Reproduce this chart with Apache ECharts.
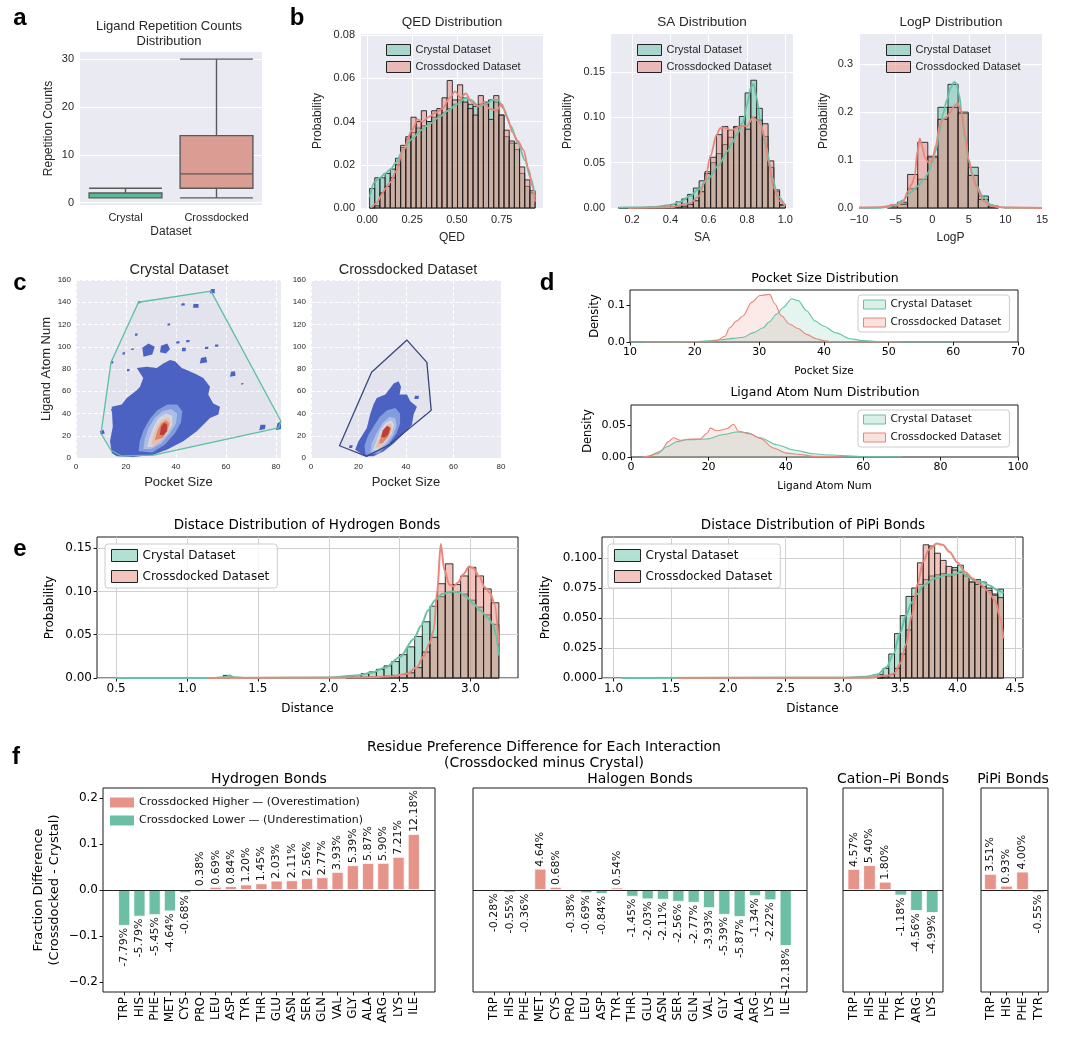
<!DOCTYPE html>
<html><head><meta charset="utf-8">
<script src="https://cdn.jsdelivr.net/npm/echarts@6/dist/echarts.min.js"></script>
<style>html,body{margin:0;padding:0;background:#fff;}#chart{width:1080px;height:1040px;}</style>
</head><body><div id="chart"></div>
<script>
// ======================= DATA =======================
// (a) ligand repetition counts boxplot: [min, Q1, median, Q3, max]
const boxCategories = ['Crystal', 'Crossdocked'];
const boxStats = [[1, 1, 1, 2, 3], [1, 3, 6, 14, 30]];
const repTicks = [0, 10, 20, 30];

const datasetNames = ['Crystal Dataset', 'Crossdocked Dataset'];

// (b) QED histogram (probability per bin) + KDE
const qedBinStart = 0.013, qedBinWidth = 0.02884;
const qedCrystal = [0.009,0.014,0.014,0.016,0.018,0.023,0.028,0.032,0.035,0.037,0.038,0.040,0.042,0.043,0.044,0.046,0.048,0.050,0.051,0.048,0.047,0.048,0.049,0.050,0.049,0.043,0.033,0.030,0.027,0.016,0.010,0.007];
const qedCross = [0.000,0.001,0.007,0.010,0.014,0.020,0.029,0.033,0.042,0.040,0.045,0.040,0.045,0.046,0.051,0.059,0.050,0.057,0.049,0.046,0.043,0.052,0.048,0.041,0.052,0.043,0.036,0.031,0.030,0.019,0.013,0.008];
const qedKdeCrystal = [[0.013,0.005],[0.04,0.012],[0.07,0.014],[0.1,0.016],[0.13,0.018],[0.16,0.021],[0.2,0.027],[0.25,0.032],[0.3,0.036],[0.35,0.039],[0.4,0.042],[0.45,0.045],[0.5,0.048],[0.55,0.051],[0.58,0.050],[0.62,0.047],[0.66,0.048],[0.7,0.050],[0.73,0.050],[0.76,0.046],[0.8,0.038],[0.84,0.030],[0.88,0.022],[0.91,0.014],[0.936,0.005]];
const qedKdeCross = [[0.02,0.000],[0.05,0.002],[0.08,0.006],[0.1,0.009],[0.13,0.012],[0.16,0.017],[0.2,0.027],[0.25,0.036],[0.28,0.041],[0.31,0.040],[0.34,0.042],[0.38,0.044],[0.42,0.046],[0.46,0.051],[0.49,0.054],[0.52,0.051],[0.55,0.053],[0.58,0.049],[0.62,0.047],[0.65,0.049],[0.68,0.046],[0.72,0.045],[0.75,0.048],[0.78,0.042],[0.81,0.035],[0.84,0.031],[0.87,0.027],[0.9,0.018],[0.92,0.010],[0.936,0.003]];
const qedXTicks = [0, 0.25, 0.5, 0.75];
const qedYTicks = [0, 0.02, 0.04, 0.06, 0.08];

// (b) SA
const saBinStart = 0.13, saBinWidth = 0.03;
const saCrystal = [0.0003,0.0003,0.0004,0.0005,0.0007,0.001,0.0013,0.0017,0.003,0.004,0.007,0.010,0.015,0.022,0.030,0.040,0.050,0.060,0.070,0.078,0.090,0.101,0.127,0.141,0.110,0.079,0.045,0.018,0.004];
const saCross = [0,0,0,0,0.0001,0.0002,0.0003,0.0005,0.0007,0.001,0.001,0.002,0.004,0.008,0.018,0.038,0.056,0.081,0.090,0.086,0.089,0.091,0.087,0.100,0.097,0.093,0.052,0.020,0.003];
const saKdeCrystal = [[0.13,0.0005],[0.2,0.0006],[0.3,0.001],[0.4,0.003],[0.45,0.007],[0.5,0.013],[0.55,0.021],[0.6,0.033],[0.65,0.047],[0.7,0.063],[0.72,0.071],[0.75,0.082],[0.78,0.095],[0.8,0.114],[0.82,0.133],[0.835,0.137],[0.85,0.122],[0.87,0.095],[0.9,0.068],[0.93,0.035],[0.96,0.013],[1.0,0.002]];
const saKdeCross = [[0.18,0.0],[0.3,0.0005],[0.4,0.001],[0.5,0.005],[0.55,0.013],[0.58,0.030],[0.61,0.058],[0.64,0.080],[0.66,0.088],[0.68,0.089],[0.7,0.087],[0.72,0.086],[0.75,0.089],[0.78,0.091],[0.8,0.090],[0.83,0.100],[0.85,0.097],[0.87,0.093],[0.89,0.080],[0.91,0.052],[0.94,0.022],[0.97,0.008],[1.0,0.002]];
const saXTicks = [0.2, 0.4, 0.6, 0.8, 1.0];
const saYTicks = [0, 0.05, 0.10, 0.15];

// (b) LogP
const logpBinStart = -6.12, logpBinWidth = 1.38;
const logpCrystal = [0.003,0.012,0.040,0.060,0.105,0.210,0.258,0.197,0.085,0.025,0.004];
const logpCross = [0.004,0.008,0.070,0.137,0.108,0.185,0.210,0.200,0.068,0.018,0.002];
const logpKdeCrystal = [[-10,0],[-7,0.0005],[-6,0.002],[-5,0.007],[-4,0.016],[-3,0.032],[-2,0.045],[-1,0.062],[-0.5,0.075],[0,0.095],[0.5,0.12],[1,0.16],[1.5,0.197],[2,0.225],[2.5,0.25],[3,0.263],[3.3,0.26],[3.7,0.235],[4,0.2],[4.5,0.145],[5,0.1],[5.5,0.07],[6,0.048],[7,0.022],[8,0.007],[9,0.002],[10,0.0005],[15,0]];
const logpKdeCross = [[-10,0.001],[-7,0.002],[-6,0.004],[-5.5,0.007],[-5,0.004],[-4,0.012],[-3.3,0.035],[-2.8,0.050],[-2.4,0.065],[-2,0.12],[-1.7,0.145],[-1.4,0.13],[-1,0.105],[-0.5,0.095],[0,0.1],[0.5,0.13],[1,0.172],[1.5,0.185],[2,0.19],[2.5,0.2],[3,0.213],[3.5,0.218],[4,0.2],[4.5,0.15],[5,0.1],[5.5,0.068],[6,0.045],[7,0.015],[8,0.004],[10,0.001],[15,0]];
const logpXTicks = [-10, -5, 0, 5, 10, 15];
const logpYTicks = [0, 0.1, 0.2, 0.3];

// (c) joint density contours [pocket size, ligand atom num], outer level first
const cXTicksCry = [0, 20, 40, 60, 80];
const cYTicks = [0, 20, 40, 60, 80, 100, 120, 140, 160];
const crystalLevels = [
  [[14.3,4.5],[13.6,15],[14.7,28],[14.3,46],[18.3,48],[20.3,54],[24.3,61],[25.6,64],[26.9,72],[24.3,81],[28.3,82],[32.3,81],[34.9,85],[37.6,88],[39.6,87],[42.3,81],[44.3,79],[48.3,75],[50.9,72],[53.6,64],[52.9,57],[54.9,49],[57.6,46],[56.9,39],[53.6,36],[48.3,24],[42.9,15],[36.3,7.5],[30.9,3],[22.9,1],[16.3,1.5]],
  [[25,6],[25.5,15],[27,25],[29.5,35],[32.5,43],[36.5,48],[40.5,48],[42.5,42],[42,32],[39.5,22],[35.5,12],[30.5,5]],
  [[27,8],[27.5,17],[29,27],[31.5,36],[34.5,42],[38,44],[40.5,40],[40,31],[37.5,22],[34,13],[30,8]],
  [[28.5,10],[29.5,19],[31,28],[33,36],[36,40],[38.5,38],[38.5,30],[36.5,22],[33,14],[30.5,10]],
  [[30,12],[31,21],[32.5,29],[34.5,35],[37,36.5],[38,32],[37,25],[34.5,17],[32,12]],
  [[31.5,16],[32.5,24],[34,31],[36,34],[37.3,31],[36.5,24],[34.5,18]],
  [[33.5,21],[34,28],[35.3,32],[36.5,30],[36.3,24],[35,20.5]]
];
const crystalIslands = [
  [[27,91],[26.5,99],[29,103],[31.5,100],[30.5,93]],
  [[33.6,95],[34,101],[36.5,103],[37.6,98],[36,94]],
  [[49.5,85],[50,90],[52,91],[52.5,86]],
  [[61.6,73],[62,77.5],[63.6,78],[63.8,74]],
  [[80,25],[80.5,31],[82,33],[82,26]],
  [[73.3,25],[73.8,30],[75.8,30],[75.6,26]],
  [[10,21],[9.5,24],[11,25.5],[11.5,22]],
  [[14.5,40],[14,44],[16,45],[16.5,41]],
  [[53.5,148],[54,152],[55.5,152],[55.5,148]],
  [[46.8,135],[47,138.5],[49,138.5],[49,135]],
  [[42,137],[42.3,139],[43.5,139],[43.5,137]],
  [[36.5,119],[36.7,121],[37.7,121],[37.5,119]],
  [[23.5,110],[23.7,112],[24.7,112],[24.5,110]],
  [[18.5,93],[18.7,95],[19.7,95],[19.5,93]],
  [[20.3,78],[20.5,80],[21.5,80],[21.3,78]],
  [[55.5,100],[55.7,102],[57,102],[56.8,100]],
  [[51.5,98],[51.7,100],[53,100],[52.8,98]],
  [[40,103],[40.2,105],[41.5,105],[41.3,103]],
  [[42.3,96],[42.5,99],[44,99],[43.8,96]],
  [[44,104],[44.2,106],[45.5,106],[45.3,104]],
  [[24.6,139],[24.8,141],[26,141],[25.8,139]],
  [[13.8,85],[14,87],[15,87],[14.8,85]],
  [[66,66],[66.2,67.5],[67,67.5],[66.8,66]],
  [[22,97],[22.2,98.5],[23.2,98.5],[23,97]]
];
const crystalHull = [[10,22],[14,86],[25,140],[54,150],[82,33],[81,27],[31,2.5],[18,2],[14,7]];
const crossLevels = [
  [[22.8,1.5],[18.6,7.5],[20,15],[23.5,27],[24.9,39],[26.3,48],[27.7,54],[31.3,57],[33.4,63],[34.8,67],[36.9,69],[37.9,64],[37.3,57],[40.4,57],[41.8,51],[44.6,46],[43.2,39],[42.5,30],[39,22],[34.8,13],[30.6,6],[26.3,1.5]],
  [[23,3],[22.5,11],[24,20],[26.5,29],[29,37],[32,43],[35.5,45],[37.5,40],[37.5,31],[36,22],[33,13],[28.5,4]],
  [[25,5],[25.5,13],[27.5,22],[30,31],[33,37],[35.5,36],[36,29],[34.5,20],[31.5,11],[27.5,5]],
  [[26,7],[27.5,15],[29,24],[31.5,32],[34,34],[35,30],[34,22],[31.5,14],[28,7]],
  [[27,9],[28.5,16],[30,24],[32,30],[34,31],[34,25],[32,17],[29,10]],
  [[28.5,13],[29.5,19],[31,26],[33,29],[33.8,26],[32.5,19],[30,13]],
  [[29.5,19],[30.3,25],[32,29],[33.3,27],[32.5,21],[31,18.5]]
];
const crossIslands = [
  [[43.5,53],[43.8,56],[45.5,56],[45.2,53]],
  [[29,52],[29.2,55],[30.8,55],[30.5,52]],
  [[16,9],[16.2,11.5],[17.6,11.5],[17.3,9]]
];
const crossHull = [[12,11],[25.5,77],[40.4,106],[48.8,86],[50.6,43],[48.5,39],[33,12],[23.4,1.5]];

// (d) KDE densities
const pocketTicks = [10, 20, 30, 40, 50, 60, 70];
const pocketKdeCrystal = [[10,0],[15,0],[18,0.0003],[20,0.001],[22,0.003],[24,0.006],[26,0.010],[27.5,0.013],[29,0.025],[30.6,0.039],[31.5,0.055],[32.7,0.077],[33.7,0.095],[35,0.119],[36,0.114],[37.3,0.086],[38.6,0.058],[39.9,0.044],[41.9,0.025],[44,0.009],[46,0.004],[48.6,0.001],[52,0.0002],[60,0]];
const pocketKdeCross = [[12,0],[18,0],[21.3,0.0005],[23.4,0.004],[24.7,0.016],[25.4,0.039],[26.5,0.058],[27.5,0.072],[28.8,0.109],[30.1,0.128],[31.6,0.131],[32.4,0.105],[33.4,0.072],[34.7,0.049],[36,0.037],[37.3,0.021],[38.8,0.009],[39.9,0.004],[41,0.001],[45,0.0002],[52,0]];
const ligandTicks = [0, 20, 40, 60, 80, 100];
const ligandKdeCrystal = [[3,0],[4.1,0.001],[6.7,0.005],[9.3,0.016],[11.9,0.024],[14.4,0.027],[19.6,0.028],[23.9,0.035],[27.3,0.039],[29.9,0.038],[33.4,0.030],[37.7,0.019],[42,0.011],[47.1,0.005],[51.4,0.003],[60,0.0005],[70,0]];
const ligandKdeCross = [[3,0],[4.6,0.001],[7.6,0.009],[9.7,0.024],[11,0.030],[12.7,0.026],[15.3,0.028],[17.9,0.028],[19.6,0.037],[20.5,0.045],[22.2,0.041],[24.8,0.044],[26.5,0.051],[27.8,0.040],[30.8,0.036],[33.4,0.029],[36.8,0.014],[40.2,0.006],[43.7,0.004],[47.1,0.001],[55,0]];

// (e) bond distance histograms
const hbBinStart = 2.12, hbBinWidth = 0.054;
const hbCrystal = [0.002,0.003,0.005,0.007,0.010,0.014,0.019,0.027,0.036,0.048,0.065,0.083,0.094,0.099,0.100,0.097,0.090,0.082,0.073,0.062];
const hbCross = [0.0005,0.0007,0.001,0.001,0.0015,0.002,0.003,0.004,0.006,0.012,0.030,0.047,0.109,0.132,0.108,0.118,0.128,0.118,0.103,0.087];
const hbOutlierBin = [1.256, 1.31, 0.003];
const hbKdeCrystal = [[0.5,0],[1.2,0],[1.27,0.001],[1.3,0.003],[1.33,0.001],[1.4,0],[2.0,0.0005],[2.2,0.003],[2.3,0.006],[2.4,0.012],[2.5,0.024],[2.6,0.045],[2.65,0.060],[2.7,0.078],[2.75,0.090],[2.8,0.097],[2.87,0.100],[2.92,0.099],[2.97,0.094],[3.02,0.086],[3.07,0.078],[3.12,0.070],[3.16,0.062],[3.18,0.050],[3.2,0.026]];
const hbKdeCross = [[1.15,0],[2.0,0.0003],[2.3,0.001],[2.45,0.002],[2.55,0.005],[2.62,0.012],[2.67,0.025],[2.71,0.040],[2.74,0.055],[2.765,0.10],[2.79,0.155],[2.815,0.125],[2.85,0.108],[2.88,0.106],[2.91,0.11],[2.95,0.12],[2.99,0.129],[3.02,0.127],[3.06,0.118],[3.1,0.105],[3.14,0.098],[3.17,0.085],[3.2,0.04]];
const hbXTicks = [0.5, 1.0, 1.5, 2.0, 2.5, 3.0];
const hbYTicks = [0, 0.05, 0.10, 0.15];

const ppBinStart = 3.30, ppBinWidth = 0.05;
const ppCrystal = [0.003,0.008,0.020,0.037,0.052,0.068,0.075,0.078,0.082,0.085,0.086,0.087,0.085,0.092,0.094,0.085,0.080,0.082,0.080,0.075,0.070,0.074];
const ppCross = [0.000,0.001,0.003,0.008,0.020,0.040,0.068,0.096,0.111,0.110,0.104,0.098,0.093,0.090,0.088,0.086,0.080,0.078,0.076,0.073,0.069,0.067];
const ppKdeCrystal = [[1.07,0],[3.0,0.0003],[3.2,0.001],[3.3,0.003],[3.38,0.009],[3.44,0.02],[3.5,0.038],[3.55,0.052],[3.6,0.063],[3.65,0.07],[3.7,0.077],[3.8,0.083],[3.9,0.086],[3.97,0.086],[4.03,0.089],[4.08,0.085],[4.15,0.081],[4.22,0.080],[4.28,0.077],[4.35,0.073],[4.4,0.071]];
const ppKdeCross = [[1.55,0],[3.2,0.0002],[3.4,0.002],[3.45,0.004],[3.5,0.012],[3.55,0.028],[3.6,0.052],[3.65,0.078],[3.7,0.097],[3.75,0.107],[3.82,0.112],[3.87,0.111],[3.93,0.105],[4.0,0.096],[4.07,0.088],[4.13,0.083],[4.2,0.078],[4.27,0.072],[4.33,0.064],[4.37,0.05],[4.4,0.033]];
const ppXTicks = [1.0, 1.5, 2.0, 2.5, 3.0, 3.5, 4.0, 4.5];
const ppYTicks = [0, 0.025, 0.05, 0.075, 0.1];

// (f) residue preference difference (Crossdocked - Crystal)
const diffNames = ['Crossdocked Higher \u2014 (Overestimation)', 'Crossdocked Lower \u2014 (Underestimation)'];
const hbResidues = ['TRP','HIS','PHE','MET','CYS','PRO','LEU','ASP','TYR','THR','GLU','ASN','SER','GLN','VAL','GLY','ALA','ARG','LYS','ILE'];
const hbDiff = [-0.0779,-0.0579,-0.0545,-0.0464,-0.0068,0.0038,0.0069,0.0084,0.0120,0.0145,0.0203,0.0211,0.0256,0.0277,0.0393,0.0539,0.0587,0.0590,0.0721,0.1218];
const halResidues = ['TRP','HIS','PHE','MET','CYS','PRO','LEU','ASP','TYR','THR','GLU','ASN','SER','GLN','VAL','GLY','ALA','ARG','LYS','ILE'];
const halDiff = [-0.0028,-0.0055,-0.0036,0.0464,0.0068,-0.0038,-0.0069,-0.0084,0.0054,-0.0145,-0.0203,-0.0211,-0.0256,-0.0277,-0.0393,-0.0539,-0.0587,-0.0134,-0.0222,-0.1218];
const catResidues = ['TRP','HIS','PHE','TYR','ARG','LYS'];
const catDiff = [0.0457,0.0540,0.0180,-0.0118,-0.0456,-0.0499];
const pipiResidues = ['TRP','HIS','PHE','TYR'];
const pipiDiff = [0.0351,0.0093,0.0400,-0.0055];
const diffTicks = [-0.2, -0.1, 0, 0.1, 0.2];

// ======================= STYLE =======================
const FS = "'Liberation Sans', Arial, Helvetica, sans-serif";
const FD = "'DejaVu Sans', Verdana, sans-serif";
const TEAL = '#66c2a5', PINK = '#e8877b';
const TEAL_H = 'rgba(102,194,165,0.5)', PINK_H = 'rgba(232,135,123,0.5)';
const TEAL_D = 'rgba(102,194,165,0.25)', PINK_D = 'rgba(232,135,123,0.25)';
const EDGE = 'rgba(25,25,25,0.85)';
const SB_BG = '#eaeaf2';
const BOX_FILL = ['#5db89a', '#d99d93'];
const LEVEL_COLORS = ['#4b63c6', '#86a0e2', '#b2c2ea', '#dcdde8', '#f3c5aa', '#e58a66', '#c63a38'];
const BAR_POS = '#e6948a', BAR_NEG = '#6cbfa5';

const grids = [], xAxes = [], yAxes = [], series = [], legends = [], graphics = [];

function addGrid(box, kind) {
  const sb = kind === 'sb';
  grids.push({ left: box[0], top: box[1], width: box[2], height: box[3], show: true,
    backgroundColor: sb ? SB_BG : '#ffffff', borderWidth: sb ? 0 : 1, borderColor: '#1a1a1a',
    containLabel: false, outerBoundsMode: 'none' });
  return grids.length - 1;
}
function num(d) { return v => (v < -1e-9 ? '\u2212' : '') + Math.abs(v).toFixed(d); }

function vAxis(gi, o, pos) {
  const sb = o.style === 'sb' || o.style === 'sbd';
  const font = sb ? FS : FD;
  const col = sb ? '#262626' : '#000';
  return {
    type: 'value', gridIndex: gi, min: o.min, max: o.max, position: pos, offset: 0,
    name: o.name || '', nameLocation: 'middle', nameGap: o.gap || 20,
    nameTextStyle: { fontFamily: font, fontSize: o.nameSize || 12, color: col, lineHeight: o.nameLH || 14 },
    axisLine: { show: false, onZero: false },
    axisTick: { show: o.tick != null ? o.tick : !sb, inside: false, customValues: o.ticks, length: 3.5, lineStyle: { color: '#1a1a1a', width: 1 } },
    axisLabel: { show: o.labels !== false, customValues: o.ticks, formatter: o.fmt, fontFamily: font,
      fontSize: o.size || 11, color: col, margin: o.margin != null ? o.margin : (sb ? 6 : 5), rotate: o.rotate || 0, hideOverlap: false },
    splitLine: { show: o.split !== false, lineStyle: { color: o.splitColor || '#ffffff', width: 1, type: o.style === 'sbd' ? 'dashed' : 'solid' } }
  };
}
function xA(gi, o) { return vAxis(gi, o, 'bottom'); }
function yA(gi, o) { return vAxis(gi, o, 'left'); }

function histSeries(gi, name, start, width, values, fill) {
  return {
    type: 'custom', name, xAxisIndex: gi, yAxisIndex: gi, silent: true, z: 2,
    data: values.map((v, k) => [start + k * width, start + (k + 1) * width, v]),
    encode: { x: [0, 1], y: 2 },
    renderItem: (params, api) => {
      const p0 = api.coord([api.value(0), api.value(2)]);
      const p1 = api.coord([api.value(1), 0]);
      return { type: 'rect', shape: { x: p0[0], y: p0[1], width: p1[0] - p0[0], height: p1[1] - p0[1] },
        style: { fill, stroke: EDGE, lineWidth: 1 } };
    }
  };
}
function kdeSeries(gi, name, data, color, width, area) {
  const s = { type: 'line', name, xAxisIndex: gi, yAxisIndex: gi, data, showSymbol: false, symbol: 'none',
    smooth: 0.3, smoothMonotone: 'x', lineStyle: { color, width }, itemStyle: { color }, silent: true, z: 3 };
  if (area) s.areaStyle = { color: area, origin: 'start' };
  return s;
}
function polySeries(gi, polys, fillFn, stroke, lw, z) {
  return {
    type: 'custom', xAxisIndex: gi, yAxisIndex: gi, silent: true, z: z || 2,
    data: polys.map((p, i) => [p[0][0], p[0][1], i]),
    encode: { x: 0, y: 1 },
    renderItem: (params, api) => {
      const i = api.value(2);
      const pts = polys[i].map(pt => api.coord(pt));
      return { type: 'polygon', shape: { points: pts },
        style: { fill: fillFn(i), stroke: stroke || null, lineWidth: lw || 0, lineJoin: 'round' } };
    }
  };
}
function text(x, y, t, size, font, o) {
  o = o || {};
  graphics.push({ type: 'text', x, y, silent: true, rotation: o.rot || 0, z: 100,
    style: { text: t, fontSize: size, fontFamily: font, fontWeight: o.bold ? 'bold' : 'normal',
      fill: o.color || '#111', align: 'center', verticalAlign: 'middle', textAlign: 'center', textVerticalAlign: 'middle' } });
}
function legendData(fills, edges, bw) {
  return datasetNames.map((n, i) => ({ name: n, icon: 'rect', itemStyle: { color: fills[i], borderColor: edges[i], borderWidth: bw } }));
}

// ======================= (a) =======================
const gA = addGrid([80, 52, 182, 153], 'sb');
xAxes.push({ type: 'category', gridIndex: gA, position: 'bottom', data: boxCategories, name: 'Dataset', nameLocation: 'middle', nameGap: 21,
  nameTextStyle: { fontFamily: FS, fontSize: 12, color: '#262626' }, axisLine: { show: false, onZero: false }, axisTick: { show: false },
  axisLabel: { fontFamily: FS, fontSize: 11, color: '#262626', margin: 7 }, splitLine: { show: false } });
yAxes.push(yA(gA, { style: 'sb', min: -0.5, max: 31.5, ticks: repTicks, fmt: v => String(v), name: 'Repetition Counts', gap: 24, size: 11 }));
series.push({ type: 'boxplot', xAxisIndex: gA, yAxisIndex: gA, silent: true, boxWidth: ['80%', '80%'],
  data: boxStats.map((v, i) => ({ value: v, itemStyle: { color: BOX_FILL[i], borderColor: '#5a5a5a', borderWidth: 1.4 } })) });

// ======================= (b) =======================
const gQ = addGrid([361, 34, 182, 174], 'sb');
xAxes.push(xA(gQ, { style: 'sb', min: -0.035, max: 0.98, ticks: qedXTicks, fmt: num(2), name: 'QED', gap: 23 }));
yAxes.push(yA(gQ, { style: 'sb', min: 0, max: 0.0805, ticks: qedYTicks, fmt: num(2), name: 'Probability', gap: 36 }));
const gS = addGrid([611, 34, 182, 174], 'sb');
xAxes.push(xA(gS, { style: 'sb', min: 0.09, max: 1.04, ticks: saXTicks, fmt: num(1), name: 'SA', gap: 23 }));
yAxes.push(yA(gS, { style: 'sb', min: 0, max: 0.192, ticks: saYTicks, fmt: num(2), name: 'Probability', gap: 36 }));
const gL = addGrid([859, 34, 183, 174], 'sb');
xAxes.push(xA(gL, { style: 'sb', min: -10, max: 15, ticks: logpXTicks, fmt: num(0), name: 'LogP', gap: 23 }));
yAxes.push(yA(gL, { style: 'sb', min: 0, max: 0.363, ticks: logpYTicks, fmt: num(1), name: 'Probability', gap: 28 }));

// histogram series first (legend icons come from the first series of each name)
series.push(histSeries(gQ, datasetNames[0], qedBinStart, qedBinWidth, qedCrystal, TEAL_H));
series.push(histSeries(gQ, datasetNames[1], qedBinStart, qedBinWidth, qedCross, PINK_H));
series.push(histSeries(gS, datasetNames[0], saBinStart, saBinWidth, saCrystal, TEAL_H));
series.push(histSeries(gS, datasetNames[1], saBinStart, saBinWidth, saCross, PINK_H));
series.push(histSeries(gL, datasetNames[0], logpBinStart, logpBinWidth, logpCrystal, TEAL_H));
series.push(histSeries(gL, datasetNames[1], logpBinStart, logpBinWidth, logpCross, PINK_H));
series.push(kdeSeries(gQ, 'kde', qedKdeCrystal, TEAL, 1.8));
series.push(kdeSeries(gQ, 'kde', qedKdeCross, PINK, 1.8));
series.push(kdeSeries(gS, 'kde', saKdeCrystal, TEAL, 1.8));
series.push(kdeSeries(gS, 'kde', saKdeCross, PINK, 1.8));
series.push(kdeSeries(gL, 'kde', logpKdeCrystal, TEAL, 1.8));
series.push(kdeSeries(gL, 'kde', logpKdeCross, PINK, 1.8));
[[386, 44], [637, 44], [886, 44]].forEach(p => legends.push({
  left: p[0], top: p[1], orient: 'vertical', selectedMode: false, itemWidth: 24, itemHeight: 11, itemGap: 5, padding: 0,
  textStyle: { fontFamily: FS, fontSize: 11, color: '#262626' },
  data: legendData([TEAL_H, PINK_H], ['#222', '#222'], 1)
}));

// ======================= (c) =======================
const gC1 = addGrid([76, 280, 205, 178], 'sb');
xAxes.push(xA(gC1, { style: 'sbd', min: 0, max: 82, ticks: cXTicksCry, fmt: v => String(v), name: 'Pocket Size', gap: 17, size: 8, nameSize: 13, margin: 5 }));
yAxes.push(yA(gC1, { style: 'sbd', min: 0, max: 160, ticks: cYTicks, fmt: v => String(v), name: 'Ligand Atom Num', gap: 22, size: 8, nameSize: 13, margin: 5 }));
const gC2 = addGrid([311, 280, 190, 178], 'sb');
xAxes.push(xA(gC2, { style: 'sbd', min: 0, max: 80, ticks: cXTicksCry, fmt: v => String(v), name: 'Pocket Size', gap: 17, size: 8, nameSize: 13, margin: 5 }));
yAxes.push(yA(gC2, { style: 'sbd', min: 0, max: 160, ticks: cYTicks, fmt: v => String(v), size: 8, margin: 5 }));
series.push(polySeries(gC1, crystalIslands, () => LEVEL_COLORS[0]));
series.push(polySeries(gC1, crystalLevels, i => LEVEL_COLORS[i]));
series.push(polySeries(gC1, [crystalHull], () => 'rgba(80,90,150,0.05)', '#5cbf9f', 1.3, 4));
series.push(polySeries(gC2, crossIslands, () => LEVEL_COLORS[0]));
series.push(polySeries(gC2, crossLevels, i => LEVEL_COLORS[i]));
series.push(polySeries(gC2, [crossHull], () => 'rgba(80,90,150,0.05)', '#38477e', 1.3, 4));

// ======================= (d) =======================
const gD1 = addGrid([630, 290, 388, 52], 'mpl');
xAxes.push(xA(gD1, { style: 'mpl', min: 10, max: 70, ticks: pocketTicks, fmt: v => String(v), name: 'Pocket Size', gap: 22, size: 11, nameSize: 10.5, split: false }));
yAxes.push(yA(gD1, { style: 'mpl', min: 0, max: 0.143, ticks: [0, 0.1], fmt: num(1), name: 'Density', gap: 28, size: 11, nameSize: 11.5, split: false }));
const gD2 = addGrid([631, 405, 387, 52], 'mpl');
xAxes.push(xA(gD2, { style: 'mpl', min: 0, max: 100, ticks: ligandTicks, fmt: v => String(v), name: 'Ligand Atom Num', gap: 22, size: 11, nameSize: 10.5, split: false }));
yAxes.push(yA(gD2, { style: 'mpl', min: 0, max: 0.081, ticks: [0, 0.05], fmt: num(2), name: 'Density', gap: 36, size: 11, nameSize: 11.5, split: false }));
series.push(kdeSeries(gD1, datasetNames[0], pocketKdeCrystal, TEAL, 1.1, TEAL_D));
series.push(kdeSeries(gD1, datasetNames[1], pocketKdeCross, PINK, 1.1, PINK_D));
series.push(kdeSeries(gD2, datasetNames[0], ligandKdeCrystal, TEAL, 1.1, TEAL_D));
series.push(kdeSeries(gD2, datasetNames[1], ligandKdeCross, PINK, 1.1, PINK_D));
[[858, 295], [858, 410]].forEach(p => legends.push({
  left: p[0], top: p[1], orient: 'vertical', selectedMode: false, itemWidth: 22, itemHeight: 9, itemGap: 7, padding: [4, 8, 4, 5],
  backgroundColor: 'rgba(255,255,255,0.8)', borderColor: '#cccccc', borderWidth: 1, borderRadius: 3,
  textStyle: { fontFamily: FD, fontSize: 10.5, color: '#111' },
  data: legendData([TEAL_D, PINK_D], [TEAL, PINK], 1)
}));

// ======================= (e) =======================
const gE1 = addGrid([97, 537, 421, 141], 'mpl');
xAxes.push(xA(gE1, { style: 'mpl', min: 0.365, max: 3.335, ticks: hbXTicks, fmt: num(1), name: 'Distance', gap: 24, size: 12, splitColor: '#d0d0d0' }));
yAxes.push(yA(gE1, { style: 'mpl', min: 0, max: 0.163, ticks: hbYTicks, fmt: num(2), name: 'Probability', gap: 40, size: 12, splitColor: '#d0d0d0' }));
const gE2 = addGrid([602, 537, 421, 141], 'mpl');
xAxes.push(xA(gE2, { style: 'mpl', min: 0.9, max: 4.57, ticks: ppXTicks, fmt: num(1), name: 'Distance', gap: 24, size: 12, splitColor: '#d0d0d0' }));
yAxes.push(yA(gE2, { style: 'mpl', min: 0, max: 0.1175, ticks: ppYTicks, fmt: num(3), name: 'Probability', gap: 49, size: 12, splitColor: '#d0d0d0' }));
series.push(histSeries(gE1, datasetNames[0], hbOutlierBin[0], hbOutlierBin[1] - hbOutlierBin[0], [hbOutlierBin[2]], TEAL_H));
series.push(histSeries(gE1, datasetNames[0], hbBinStart, hbBinWidth, hbCrystal, TEAL_H));
series.push(histSeries(gE1, datasetNames[1], hbBinStart, hbBinWidth, hbCross, PINK_H));
series.push(histSeries(gE2, datasetNames[0], ppBinStart, ppBinWidth, ppCrystal, TEAL_H));
series.push(histSeries(gE2, datasetNames[1], ppBinStart, ppBinWidth, ppCross, PINK_H));
series.push(kdeSeries(gE1, 'kde', hbKdeCrystal, TEAL, 2));
series.push(kdeSeries(gE1, 'kde', hbKdeCross, PINK, 2));
series.push(kdeSeries(gE2, 'kde', ppKdeCrystal, TEAL, 2));
series.push(kdeSeries(gE2, 'kde', ppKdeCross, PINK, 2));
[[105, 544], [608, 544]].forEach(p => legends.push({
  left: p[0], top: p[1], orient: 'vertical', selectedMode: false, itemWidth: 26, itemHeight: 12, itemGap: 8, padding: [5, 8, 5, 6],
  backgroundColor: 'rgba(255,255,255,0.8)', borderColor: '#cccccc', borderWidth: 1, borderRadius: 3,
  textStyle: { fontFamily: FD, fontSize: 12, color: '#111' },
  data: legendData([TEAL_H, PINK_H], ['#222', '#222'], 1)
}));

// ======================= (f) =======================
function diffPanel(box, names, vals, first, bw) {
  const gi = addGrid(box, 'mpl');
  const n = names.length;
  const idx = names.map((_, i) => i);
  xAxes.push({ type: 'value', gridIndex: gi, position: 'bottom', offset: 0, min: -0.4 - 0.05 * (n - 0.2), max: n - 0.6 + 0.05 * (n - 0.2),
    axisLine: { show: false, onZero: false }, splitLine: { show: false },
    axisTick: { show: true, customValues: idx, length: 3.5, lineStyle: { color: '#1a1a1a' } },
    axisLabel: { customValues: idx, formatter: v => names[Math.round(v)], rotate: 90, fontFamily: FD, fontSize: 12, color: '#000', margin: 5, hideOverlap: false } });
  yAxes.push(yA(gi, { style: 'mpl', min: -0.222, max: 0.222, ticks: diffTicks, fmt: num(1), labels: first, split: false, size: 12,
    tick: first, name: first ? 'Fraction Difference\n(Crossdocked - Crystal)' : '', gap: 40, nameSize: 13, nameLH: 16 }));
  const lab = { show: true, rotate: 90, verticalAlign: 'middle', distance: 2, fontFamily: FD, fontSize: 11, color: '#111',
    formatter: p => (p.value[1] * 100).toFixed(2) + '%' };
  const common = { type: 'bar', xAxisIndex: gi, yAxisIndex: gi, barWidth: bw, barGap: '-100%', silent: true };
  series.push(Object.assign({}, common, { name: diffNames[0],
    itemStyle: { color: BAR_POS, borderColor: '#ffffff', borderWidth: 0.8 },
    label: Object.assign({}, lab, { position: 'top', align: 'left' }),
    data: vals.map((v, i) => [i, v >= 0 ? v : '-'] ),
    markLine: { silent: true, symbol: 'none', label: { show: false }, lineStyle: { color: '#222', width: 1, type: 'solid' }, data: [{ yAxis: 0 }] } }));
  series.push(Object.assign({}, common, { name: diffNames[1],
    itemStyle: { color: BAR_NEG, borderColor: '#ffffff', borderWidth: 0.8 },
    label: Object.assign({}, lab, { position: 'bottom', align: 'right' }),
    data: vals.map((v, i) => [i, v < 0 ? v : '-']) }));
  return gi;
}
diffPanel([103, 788, 332, 204], hbResidues, hbDiff, true, 12);
diffPanel([473, 788, 334, 204], halResidues, halDiff, false, 12);
diffPanel([843, 788, 100, 204], catResidues, catDiff, false, 12.5);
diffPanel([981, 788, 67, 204], pipiResidues, pipiDiff, false, 12.5);
legends.push({ left: 110, top: 797, orient: 'vertical', selectedMode: false, itemWidth: 24, itemHeight: 10, itemGap: 7, padding: 0,
  textStyle: { fontFamily: FD, fontSize: 11, color: '#111' },
  data: diffNames.map((n, i) => ({ name: n, icon: 'rect', itemStyle: { color: i ? BAR_NEG : BAR_POS, borderWidth: 0 } })) });

// ======================= TEXT =======================
[['a', 20, 18], ['b', 297, 18], ['c', 20, 283], ['d', 547, 283], ['e', 20, 549], ['f', 16, 757]].forEach(t =>
  text(t[1], t[2], t[0], 24, FS, { bold: true, color: '#000' }));
text(169, 26, 'Ligand Repetition Counts', 13, FS, { color: '#262626' });
text(169, 41, 'Distribution', 13, FS, { color: '#262626' });
text(452, 22, 'QED Distribution', 13.5, FS, { color: '#262626' });
text(702, 22, 'SA Distribution', 13.5, FS, { color: '#262626' });
text(951, 22, 'LogP Distribution', 13.5, FS, { color: '#262626' });
text(179, 270, 'Crystal Dataset', 14.5, FS, { color: '#262626' });
text(408, 270, 'Crossdocked Dataset', 14.5, FS, { color: '#262626' });
text(825, 279, 'Pocket Size Distribution', 12.5, FD, { color: '#000' });
text(825, 393, 'Ligand Atom Num Distribution', 12.5, FD, { color: '#000' });
text(307, 525, 'Distace Distribution of Hydrogen Bonds', 13.5, FD, { color: '#000' });
text(813, 525, 'Distace Distribution of PiPi Bonds', 13.5, FD, { color: '#000' });
text(544, 747, 'Residue Preference Difference for Each Interaction', 14, FD, { color: '#000' });
text(544, 763, '(Crossdocked minus Crystal)', 14, FD, { color: '#000' });
text(269, 779, 'Hydrogen Bonds', 14, FD, { color: '#000' });
text(640, 779, 'Halogen Bonds', 14, FD, { color: '#000' });
text(893, 779, 'Cation\u2013Pi Bonds', 14, FD, { color: '#000' });
text(1013, 779, 'PiPi Bonds', 14, FD, { color: '#000' });

const chart = echarts.init(document.getElementById('chart'), null, { renderer: 'canvas' });
chart.setOption({
  animation: false,
  backgroundColor: '#ffffff',
  textStyle: { fontFamily: FS },
  tooltip: { show: false },
  grid: grids, xAxis: xAxes, yAxis: yAxes, legend: legends, series, graphic: graphics
});
</script></body></html>
